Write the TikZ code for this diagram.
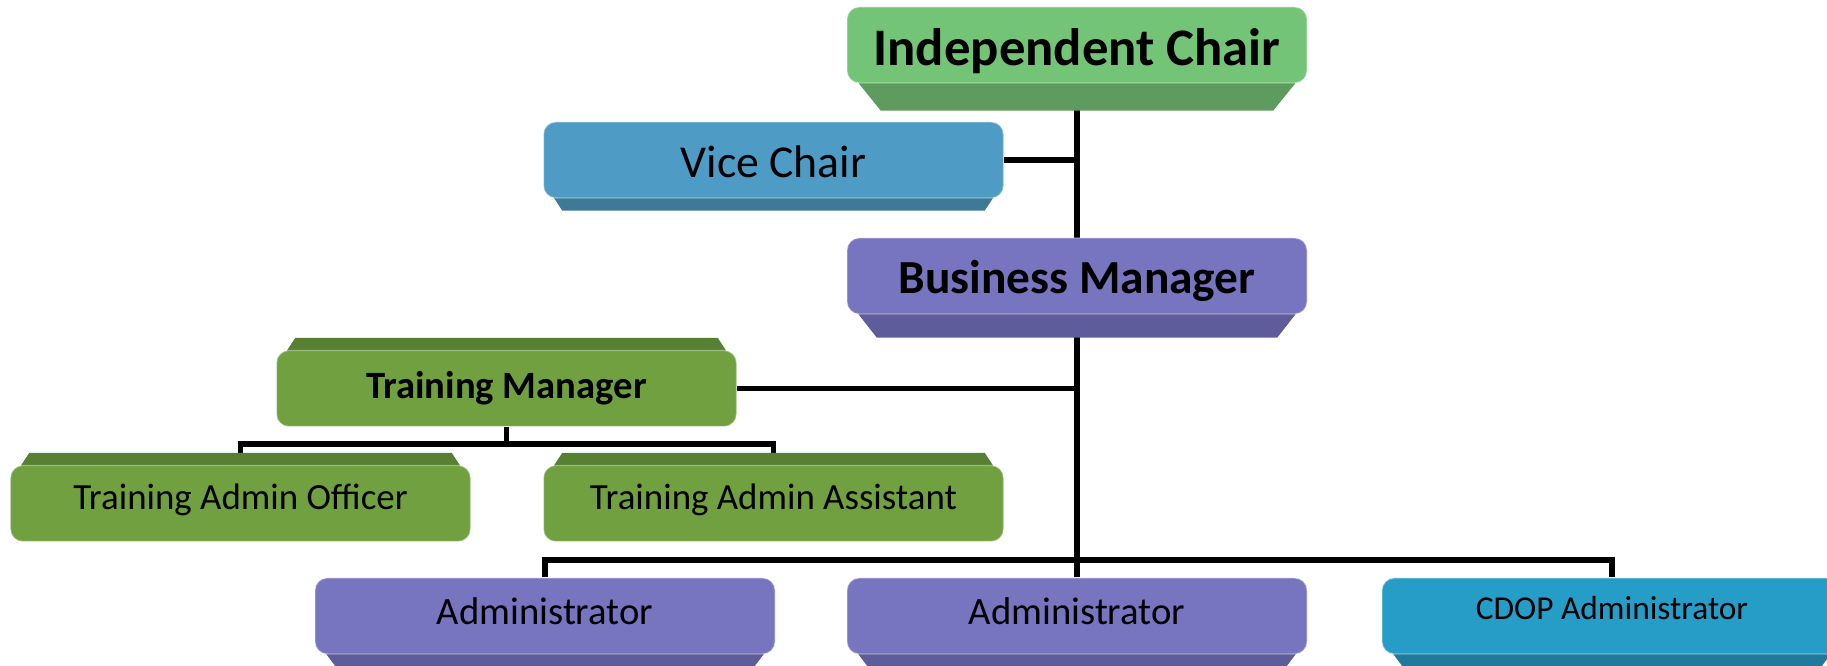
\documentclass[tikz,border=0pt]{standalone}
\usepackage{fontspec}
\setmainfont{Carlito}
\usetikzlibrary{positioning,backgrounds}

\definecolor{chairface}{RGB}{116,196,120}
\definecolor{chairdark}{RGB}{93,155,95}
\definecolor{viceface}{RGB}{78,156,197}
\definecolor{vicedark}{RGB}{62,121,152}
\definecolor{bizface}{RGB}{119,116,192}
\definecolor{bizdark}{RGB}{94,92,154}
\definecolor{trainface}{RGB}{112,160,64}
\definecolor{traindark}{RGB}{88,128,50}
\definecolor{cdopface}{RGB}{38,157,199}
\definecolor{cdopdark}{RGB}{31,122,156}

% move a label up or down inside its box
\newcommand{\nudge}[2]{\raisebox{#1}[\height][\depth]{#2}}

\begin{document}
\begin{tikzpicture}[
    post/.style={rounded corners=7pt, minimum width=9.2cm, minimum height=1.52cm,
      inner sep=0pt, align=center, draw=white, draw opacity=0.35, line width=0.8pt},
    link/.style={draw=black, line width=3.3pt},
  ]
  \useasboundingbox (0,0) rectangle (36.54,-13.32);

  % Top
  \node[post, fill=chairface] (IC) at (21.54,-0.90) {\fontsize{30}{36}\selectfont\bfseries\nudge{-3.3pt}{Independent Chair}};
  \node[post, fill=viceface] (VC) at (15.47,-3.20) {\fontsize{26}{31}\selectfont\nudge{-1.3pt}{Vice Chair}};
  \node[post, fill=bizface] (BM) at (21.54,-5.52) {\fontsize{27}{32}\selectfont\bfseries\nudge{-2.7pt}{Business Manager}};

  % Training
  \node[post, fill=trainface] (TM) at (10.13,-7.77) {\fontsize{22}{26}\selectfont\bfseries Training Manager};
  \node[post, fill=trainface] (TAO) at (4.81,-10.07) {\fontsize{21}{25}\selectfont\nudge{2pt}{Training Admin Officer}};
  \node[post, fill=trainface] (TAA) at (15.47,-10.07) {\fontsize{21}{25}\selectfont\nudge{2pt}{Training Admin Assistant}};

  % Administrators
  \node[post, fill=bizface] (AD1) at (10.90,-12.32) {\fontsize{22}{26}\selectfont\nudge{2.7pt}{Administrator}};
  \node[post, fill=bizface] (AD2) at (21.54,-12.32) {\fontsize{22}{26}\selectfont\nudge{2.7pt}{Administrator}};
  \node[post, fill=cdopface] (CDOP) at (32.24,-12.32) {\fontsize{19}{23}\selectfont\nudge{4.6pt}{CDOP Administrator}};

  \begin{scope}[on background layer]
    % Connections
    \coordinate (hub) at ([yshift=0.34cm]AD2.north);
    \coordinate (thub) at ([yshift=-0.34cm]TM.south);
    \draw[link] (IC.south) -- (hub);
    \draw[link] (VC.east) -- (VC.east -| IC.south);
    \draw[link] (TM.east) -- (TM.east -| IC.south);
    \draw[link] (AD1.north) |- (hub) -| (CDOP.north);
    \draw[link] (hub) -- (AD2.north);
    \draw[link] (TM.south) -- (thub);
    \draw[link] (TAO.north) |- (thub) -| (TAA.north);

    % Bevels below
    \foreach \n/\c/\h in {IC/chairdark/0.54, VC/vicedark/0.24, BM/bizdark/0.46,
                          AD1/bizdark/0.4, AD2/bizdark/0.4, CDOP/cdopdark/0.4}
      \fill[\c] ([xshift=4pt,yshift=4pt]\n.south west) -- ([xshift=-4pt,yshift=4pt]\n.south east)
        -- ([xshift={-(\h+0.15)*1cm},yshift={-\h*1cm}]\n.south east)
        -- ([xshift={(\h+0.15)*1cm},yshift={-\h*1cm}]\n.south west) -- cycle;

    % Bevels above
    \foreach \n in {TM,TAO,TAA}
      \fill[traindark] ([xshift=4pt,yshift=-4pt]\n.north west) -- ([xshift=-4pt,yshift=-4pt]\n.north east)
        -- ([xshift=-0.39cm,yshift=0.24cm]\n.north east)
        -- ([xshift=0.39cm,yshift=0.24cm]\n.north west) -- cycle;
  \end{scope}

\end{tikzpicture}
\end{document}
